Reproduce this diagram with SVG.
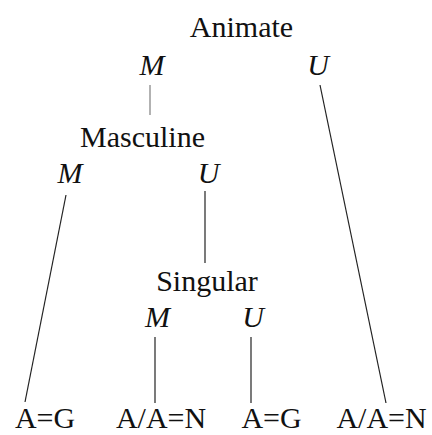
<svg xmlns="http://www.w3.org/2000/svg" width="432" height="435" viewBox="0 0 432 435">
<style>
text{font-family:"Liberation Serif","Times New Roman",serif;font-size:30px;fill:#111;text-anchor:middle}
.i{font-style:italic}
.c line{stroke:#222;stroke-width:1.2}
</style>
<rect width="432" height="435" fill="#fff"/>
<g class="c" id="connectors">
<line x1="150" y1="85" x2="150" y2="115" style="stroke:#999;stroke-width:1.5"/>
<line x1="320" y1="85" x2="386" y2="403"/>
<line x1="66" y1="195" x2="25" y2="402"/>
<line x1="205" y1="191" x2="205" y2="263"/>
<line x1="155" y1="337" x2="155" y2="403"/>
<line x1="251" y1="337" x2="251" y2="403"/>
</g>
<g id="animate"><text x="241.5" y="37">Animate</text><text class="i" x="152" y="75">M</text><text class="i" x="318" y="75">U</text></g>
<g id="masculine"><text x="142.5" y="147">Masculine</text><text class="i" x="70" y="183">M</text><text class="i" x="208.5" y="183">U</text></g>
<g id="singular"><text x="207" y="291">Singular</text><text class="i" x="157.5" y="327">M</text><text class="i" x="253" y="327">U</text></g>
<g id="leaf1"><text x="45" y="428">A=G</text></g>
<g id="leaf2"><text x="161" y="428">A/A=N</text></g>
<g id="leaf3"><text x="271.5" y="428">A=G</text></g>
<g id="leaf4"><text x="381.5" y="428">A/A=N</text></g>
</svg>
